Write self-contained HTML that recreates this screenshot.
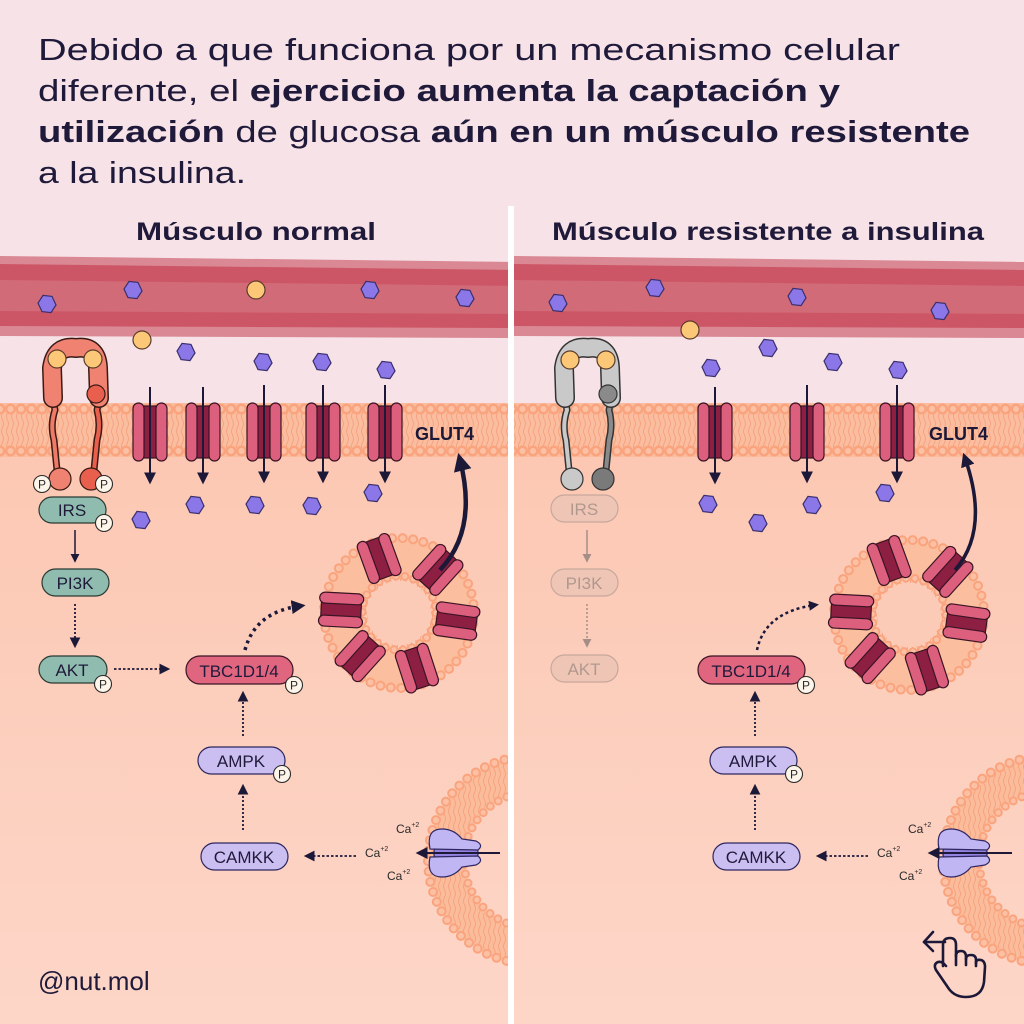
<!DOCTYPE html>
<html><head><meta charset="utf-8"><style>
html,body{margin:0;padding:0;background:#f7e2e7}
svg{display:block}
text{font-family:"Liberation Sans",sans-serif}
</style></head><body>
<svg width="1024" height="1024" viewBox="0 0 1024 1024" xmlns="http://www.w3.org/2000/svg">
<defs>
  <linearGradient id="cell" x1="0" y1="0" x2="0" y2="1">
    <stop offset="0" stop-color="#fcc8b3"/><stop offset="1" stop-color="#fdd6c8"/>
  </linearGradient>
  <pattern id="waves" width="5" height="30" patternUnits="userSpaceOnUse">
    <path d="M2.5 0 q2 3.75 0 7.5 q-2 3.75 0 7.5 q2 3.75 0 7.5 q-2 3.75 0 7.5" fill="none" stroke="#f6a07c" stroke-width="0.9"/>
  </pattern>
  <marker id="ah" viewBox="0 0 10 10" refX="8" refY="5" markerWidth="6" markerHeight="6" orient="auto-start-reverse">
    <path d="M0 0 L10 5 L0 10 Z" fill="#1c1838"/>
  </marker>
  <marker id="ahg" viewBox="0 0 10 10" refX="8" refY="5" markerWidth="6" markerHeight="6" orient="auto">
    <path d="M0 0 L10 5 L0 10 Z" fill="#a58e88"/>
  </marker>
  <marker id="ahb" viewBox="0 0 10 10" refX="6" refY="5" markerWidth="4" markerHeight="4" orient="auto">
    <path d="M0 0 L10 5 L0 10 Z" fill="#1c1838"/>
  </marker>
  <polygon id="hx" points="9,1 4,8.6 -5,7.6 -9,-1 -4,-8.6 5,-7.6" fill="#8b77e8" stroke="#3a2f6e" stroke-width="1.2"/>
  <circle id="ins" r="9" fill="#fcc878" stroke="#5a3b2a" stroke-width="1.2"/>
  <g id="glut">
    <rect x="-9" y="-26" width="18" height="52" fill="#8c1f42" stroke="#3a1424" stroke-width="1.2"/>
    <rect x="-17" y="-29" width="11" height="58" rx="5.5" fill="#dc5f7e" stroke="#3a1424" stroke-width="1.2"/>
    <rect x="6" y="-29" width="11" height="58" rx="5.5" fill="#dc5f7e" stroke="#3a1424" stroke-width="1.2"/>
  </g>
  <g id="vch">
    <rect x="-20" y="-8" width="40" height="16" fill="#8c1f42" stroke="#3a1424" stroke-width="1.2"/>
    <rect x="-22" y="-17" width="44" height="11" rx="5.5" fill="#dc5f7e" stroke="#3a1424" stroke-width="1.2"/>
    <rect x="-22" y="6" width="44" height="11" rx="5.5" fill="#dc5f7e" stroke="#3a1424" stroke-width="1.2"/>
  </g>
  <g id="ves">
    <circle r="56" fill="url(#waves)" stroke="#fbbc9c" stroke-width="40" opacity="1"/>
    <circle r="56" fill="none" stroke="#fbbfa1" stroke-width="38" opacity="0.55"/>
    <circle r="75" fill="none" stroke="#f9a47e" stroke-width="10" stroke-dasharray="0 10.5" stroke-linecap="round"/>
    <circle r="75" fill="none" stroke="#fcc1a4" stroke-width="6" stroke-dasharray="0 10.5" stroke-linecap="round"/>
    <circle r="37" fill="none" stroke="#f9a47e" stroke-width="9" stroke-dasharray="0 9" stroke-linecap="round"/>
    <circle r="37" fill="none" stroke="#fcc1a4" stroke-width="5" stroke-dasharray="0 9" stroke-linecap="round"/>
    <circle r="32" fill="#fccbb7"/>
    <use href="#vch" transform="rotate(-110) translate(58 0)"/>
    <use href="#vch" transform="rotate(-48) translate(58 0)"/>
    <use href="#vch" transform="rotate(8) translate(58 0)"/>
    <use href="#vch" transform="rotate(72) translate(58 0)"/>
    <use href="#vch" transform="rotate(132) translate(58 0)"/>
    <use href="#vch" transform="rotate(183) translate(58 0)"/>
  </g>
  <g id="caring">
    <circle r="86" fill="none" stroke="#fbbc9c" stroke-width="36"/>
    <circle r="86" fill="none" stroke="url(#waves)" stroke-width="30"/>
    <circle r="104" fill="none" stroke="#f9a47e" stroke-width="10" stroke-dasharray="0 10.5" stroke-linecap="round"/>
    <circle r="104" fill="none" stroke="#fcc1a4" stroke-width="6" stroke-dasharray="0 10.5" stroke-linecap="round"/>
    <circle r="68" fill="none" stroke="#f9a47e" stroke-width="9" stroke-dasharray="0 9.5" stroke-linecap="round"/>
    <circle r="68" fill="none" stroke="#fcc1a4" stroke-width="5" stroke-dasharray="0 9.5" stroke-linecap="round"/>
  </g>
  <g id="cach">
    <rect x="-24" y="-9" width="44" height="18" rx="8" fill="#9483e0" stroke="#2e2660" stroke-width="1.2"/>
    <path d="M-28 -4 Q-32 -24 -16 -24 Q-4 -24 4 -14 L18 -12 Q26 -8 20 -3 Z" fill="#c0b6f4" stroke="#2e2660" stroke-width="1.2"/>
    <path d="M-28 4 Q-32 24 -16 24 Q-4 24 4 14 L18 12 Q26 8 20 3 Z" fill="#c0b6f4" stroke="#2e2660" stroke-width="1.2"/>
  </g>
  <g id="pb"><circle r="8.5" fill="#fdf5ea" stroke="#2a2a2a" stroke-width="1.1"/><text y="4.5" text-anchor="middle" font-size="12" fill="#2a2a2a">P</text></g>
  <g id="mem">
    <rect x="0" y="403" width="520" height="54" fill="#fbbd9f"/>
    <rect x="0" y="412" width="520" height="36" fill="url(#waves)"/>
    <line x1="0" y1="409" x2="520" y2="409" stroke="#f9a47e" stroke-width="11" stroke-dasharray="0 10.5" stroke-linecap="round"/>
    <line x1="0" y1="409" x2="520" y2="409" stroke="#fcc1a4" stroke-width="6" stroke-dasharray="0 10.5" stroke-linecap="round"/>
    <line x1="0" y1="451" x2="520" y2="451" stroke="#f9a47e" stroke-width="11" stroke-dasharray="0 10.5" stroke-linecap="round"/>
    <line x1="0" y1="451" x2="520" y2="451" stroke="#fcc1a4" stroke-width="6" stroke-dasharray="0 10.5" stroke-linecap="round"/>
  </g>
  <g id="vessel">
    <path d="M0 256 L520 262 L520 338 L0 336 Z" fill="#d98894"/>
    <path d="M0 264 L520 270 L520 328 L0 326 Z" fill="#cd5666"/>
    <path d="M0 280 L520 286 L520 314 L0 311 Z" fill="#d26b78"/>
  </g>
  <clipPath id="cl"><rect x="0" y="200" width="508" height="824"/></clipPath>
  <clipPath id="cr"><rect x="514" y="200" width="510" height="824"/></clipPath>
</defs>

<rect width="1024" height="1024" fill="#f7e2e7"/>
<rect x="0" y="455" width="1024" height="569" fill="url(#cell)"/>

<!-- Title -->
<g fill="#1f1a3a" font-size="31">
  <text x="38" y="60" textLength="862" lengthAdjust="spacingAndGlyphs">Debido a que funciona por un mecanismo celular</text>
  <text x="38" y="101" textLength="802" lengthAdjust="spacingAndGlyphs">diferente, el <tspan font-weight="bold">ejercicio aumenta la captación y</tspan></text>
  <text x="38" y="142" textLength="932" lengthAdjust="spacingAndGlyphs"><tspan font-weight="bold">utilización</tspan> de glucosa <tspan font-weight="bold">aún en un músculo resistente</tspan></text>
  <text x="38" y="183" textLength="208" lengthAdjust="spacingAndGlyphs">a la insulina.</text>
</g>
<g fill="#1f1a3a" font-size="25" font-weight="bold" text-anchor="middle">
  <text x="256" y="240" textLength="240" lengthAdjust="spacingAndGlyphs">Músculo normal</text>
  <text x="768" y="240" textLength="432" lengthAdjust="spacingAndGlyphs">Músculo resistente a insulina</text>
</g>

<!-- LEFT PANEL -->
<g clip-path="url(#cl)">
  <use href="#vessel"/>
  <use href="#mem"/>
  <use href="#ves" x="399" y="613"/>
  <use href="#caring" x="532" y="860"/>
  <!-- receptor -->
  <g stroke-linecap="round" stroke-linejoin="round" fill="none">
    <path d="M57 470 L54 440 Q50 425 55 410 L52 395" stroke="#3a1a14" stroke-width="7"/>
    <path d="M57 470 L54 440 Q50 425 55 410 L52 395" stroke="#f07a68" stroke-width="4"/>
    <path d="M94 470 L97 440 Q101 425 97 410 L100 395" stroke="#3a1a14" stroke-width="7"/>
    <path d="M94 470 L97 440 Q101 425 97 410 L100 395" stroke="#e95f4e" stroke-width="4"/>
    <path d="M53 398 L52 368 Q55 345 76 348 Q97 345 98 368 L99 398" stroke="#3a1a14" stroke-width="20"/>
    <path d="M53 398 L52 368 Q55 345 76 348 Q97 345 98 368 L99 398" stroke="#f08272" stroke-width="17"/>
  </g>
  <circle cx="96" cy="394" r="9" fill="#e95f4e" stroke="#3a1a14" stroke-width="1.2"/>
  <circle cx="60" cy="479" r="11" fill="#f08272" stroke="#3a1a14" stroke-width="1.2"/>
  <circle cx="91" cy="479" r="11" fill="#e95f4e" stroke="#3a1a14" stroke-width="1.2"/>
  <use href="#ins" x="57" y="359"/><use href="#ins" x="93" y="359"/>
  <use href="#pb" x="42" y="484"/><use href="#pb" x="104" y="484"/>
  <!-- glucose / insulin -->
  <use href="#hx" x="47" y="304"/><use href="#hx" x="133" y="290"/><use href="#ins" x="256" y="290"/>
  <use href="#hx" x="370" y="290"/><use href="#hx" x="465" y="298"/>
  <use href="#ins" x="142" y="340"/><use href="#hx" x="186" y="352"/><use href="#hx" x="263" y="362"/>
  <use href="#hx" x="322" y="362"/><use href="#hx" x="386" y="370"/>
  <use href="#hx" x="141" y="520"/><use href="#hx" x="195" y="505"/><use href="#hx" x="255" y="505"/>
  <use href="#hx" x="312" y="506"/><use href="#hx" x="373" y="493"/>
  <!-- GLUT4 -->
  <g stroke="#1c1838" stroke-width="2">
    <use href="#glut" x="150" y="432"/><line x1="150" y1="387" x2="150" y2="482" marker-end="url(#ah)"/>
    <use href="#glut" x="203" y="432"/><line x1="203" y1="387" x2="203" y2="482" marker-end="url(#ah)"/>
    <use href="#glut" x="264" y="432"/><line x1="264" y1="385" x2="264" y2="481" marker-end="url(#ah)"/>
    <use href="#glut" x="323" y="432"/><line x1="323" y1="385" x2="323" y2="481" marker-end="url(#ah)"/>
    <use href="#glut" x="385" y="432"/><line x1="385" y1="385" x2="385" y2="481" marker-end="url(#ah)"/>
  </g>
  <text x="415" y="440" font-size="18" font-weight="bold" fill="#1c1838">GLUT4</text>
  <path d="M440 570 Q478 530 460 460" fill="none" stroke="#1c1838" stroke-width="4.5" marker-end="url(#ahb)"/>
  <path d="M245 650 Q255 612 300 606" fill="none" stroke="#1c1838" stroke-width="3.5" stroke-dasharray="3 4" marker-end="url(#ahb)"/>
  <!-- pathway -->
  <rect x="39" y="497" width="67" height="26" rx="13" fill="#8fbcae" stroke="#2a3a34" stroke-width="1.2"/>
  <text x="72" y="516" font-size="17" text-anchor="middle" fill="#1f1a3a">IRS</text>
  <use href="#pb" x="104" y="523"/>
  <line x1="75" y1="530" x2="75" y2="561" stroke="#1c1838" stroke-width="1.5" marker-end="url(#ah)"/>
  <rect x="42" y="569" width="67" height="27" rx="13.5" fill="#8fbcae" stroke="#2a3a34" stroke-width="1.2"/>
  <text x="75" y="589" font-size="17" text-anchor="middle" fill="#1f1a3a">PI3K</text>
  <line x1="75" y1="604" x2="75" y2="646" stroke="#1c1838" stroke-width="1.8" stroke-dasharray="2 2" marker-end="url(#ah)"/>
  <rect x="39" y="656" width="68" height="27" rx="13.5" fill="#8fbcae" stroke="#2a3a34" stroke-width="1.2"/>
  <text x="72" y="676" font-size="17" text-anchor="middle" fill="#1f1a3a">AKT</text>
  <use href="#pb" x="103" y="684"/>
  <line x1="114" y1="669" x2="168" y2="669" stroke="#1c1838" stroke-width="1.8" stroke-dasharray="2.5 2" marker-end="url(#ah)"/>
  <rect x="186" y="656" width="107" height="28" rx="14" fill="#e0667f" stroke="#3a1424" stroke-width="1.2"/>
  <text x="239" y="677" font-size="17" text-anchor="middle" fill="#1f1a3a">TBC1D1/4</text>
  <use href="#pb" x="294" y="685"/>
  <line x1="243" y1="736" x2="243" y2="693" stroke="#1c1838" stroke-width="1.8" stroke-dasharray="2 2" marker-end="url(#ah)"/>
  <rect x="198" y="747" width="87" height="27" rx="13.5" fill="#cbbff2" stroke="#2e2660" stroke-width="1.2"/>
  <text x="241" y="767" font-size="17" text-anchor="middle" fill="#1f1a3a">AMPK</text>
  <use href="#pb" x="282" y="774"/>
  <line x1="243" y1="830" x2="243" y2="786" stroke="#1c1838" stroke-width="1.8" stroke-dasharray="2 2" marker-end="url(#ah)"/>
  <rect x="201" y="843" width="87" height="27" rx="13.5" fill="#cbbff2" stroke="#2e2660" stroke-width="1.2"/>
  <text x="244" y="863" font-size="17" text-anchor="middle" fill="#1f1a3a">CAMKK</text>
  <line x1="356" y1="856" x2="306" y2="856" stroke="#1c1838" stroke-width="1.8" stroke-dasharray="2.5 2" marker-end="url(#ah)"/>
  <g font-size="12" fill="#2a2a2a">
    <text x="396" y="833">Ca<tspan font-size="7" dy="-6">+2</tspan></text>
    <text x="365" y="857">Ca<tspan font-size="7" dy="-6">+2</tspan></text>
    <text x="387" y="880">Ca<tspan font-size="7" dy="-6">+2</tspan></text>
  </g>
  <use href="#cach" x="458" y="853"/>
  <line x1="500" y1="853" x2="418" y2="853" stroke="#1c1838" stroke-width="2" marker-end="url(#ah)"/>
  <text x="38" y="990" font-size="26" fill="#1f1a3a">@nut.mol</text>
</g>

<!-- divider -->
<rect x="508" y="206" width="6" height="818" fill="#ffffff"/>

<!-- RIGHT PANEL -->
<g clip-path="url(#cr)">
  <g transform="translate(512 0)"><use href="#vessel"/><use href="#mem"/></g>
  <use href="#ves" x="909" y="615"/>
  <use href="#caring" x="1047" y="860"/>
  <g stroke-linecap="round" stroke-linejoin="round" fill="none">
    <path d="M569 470 L566 440 Q562 425 567 410 L564 395" stroke="#333" stroke-width="7"/>
    <path d="M569 470 L566 440 Q562 425 567 410 L564 395" stroke="#c9c9c9" stroke-width="4"/>
    <path d="M606 470 L609 440 Q613 425 609 410 L612 395" stroke="#333" stroke-width="7"/>
    <path d="M606 470 L609 440 Q613 425 609 410 L612 395" stroke="#8a8a8a" stroke-width="4"/>
    <path d="M565 398 L564 368 Q567 345 588 348 Q609 345 610 368 L611 398" stroke="#333" stroke-width="20"/>
    <path d="M565 398 L564 368 Q567 345 588 348 Q609 345 610 368 L611 398" stroke="#c9c9c9" stroke-width="17"/>
  </g>
  <circle cx="608" cy="394" r="9" fill="#8a8a8a" stroke="#333" stroke-width="1.2"/>
  <circle cx="572" cy="479" r="11" fill="#c9c9c9" stroke="#333" stroke-width="1.2"/>
  <circle cx="603" cy="479" r="11" fill="#7a7a7a" stroke="#333" stroke-width="1.2"/>
  <use href="#ins" x="570" y="360"/><use href="#ins" x="606" y="360"/>
  <use href="#hx" x="558" y="303"/><use href="#hx" x="655" y="288"/><use href="#hx" x="797" y="297"/>
  <use href="#hx" x="940" y="311"/><use href="#ins" x="690" y="330"/>
  <use href="#hx" x="768" y="348"/><use href="#hx" x="833" y="362"/><use href="#hx" x="898" y="370"/>
  <use href="#hx" x="711" y="368"/>
  <use href="#hx" x="708" y="504"/><use href="#hx" x="758" y="523"/><use href="#hx" x="812" y="505"/><use href="#hx" x="885" y="493"/>
  <g stroke="#1c1838" stroke-width="2">
    <use href="#glut" x="715" y="432"/><line x1="715" y1="387" x2="715" y2="482" marker-end="url(#ah)"/>
    <use href="#glut" x="807" y="432"/><line x1="807" y1="385" x2="807" y2="481" marker-end="url(#ah)"/>
    <use href="#glut" x="897" y="432"/><line x1="897" y1="385" x2="897" y2="481" marker-end="url(#ah)"/>
  </g>
  <text x="929" y="440" font-size="18" font-weight="bold" fill="#1c1838">GLUT4</text>
  <path d="M955 570 Q990 530 965 458" fill="none" stroke="#1c1838" stroke-width="3.5" marker-end="url(#ahb)"/>
  <path d="M757 650 Q765 612 815 605" fill="none" stroke="#1c1838" stroke-width="2.5" stroke-dasharray="3 3" marker-end="url(#ahb)"/>
  <!-- faded pathway -->
  <g fill="#efc6b6" stroke="#c7a89d" stroke-width="1.2">
    <rect x="551" y="495" width="67" height="27" rx="13.5"/>
    <rect x="551" y="569" width="67" height="27" rx="13.5"/>
    <rect x="551" y="655" width="67" height="27" rx="13.5"/>
  </g>
  <g font-size="17" text-anchor="middle" fill="#b1988f">
    <text x="584" y="515">IRS</text><text x="584" y="589">PI3K</text><text x="584" y="675">AKT</text>
  </g>
  <line x1="587" y1="530" x2="587" y2="561" stroke="#a58e88" stroke-width="1.5" marker-end="url(#ahg)"/>
  <line x1="587" y1="604" x2="587" y2="646" stroke="#a58e88" stroke-width="1.5" stroke-dasharray="2 2" marker-end="url(#ahg)"/>
  <rect x="698" y="656" width="107" height="28" rx="14" fill="#e0667f" stroke="#3a1424" stroke-width="1.2"/>
  <text x="751" y="677" font-size="17" text-anchor="middle" fill="#1f1a3a">TBC1D1/4</text>
  <use href="#pb" x="806" y="685"/>
  <line x1="755" y1="736" x2="755" y2="693" stroke="#1c1838" stroke-width="1.8" stroke-dasharray="2 2" marker-end="url(#ah)"/>
  <rect x="710" y="747" width="87" height="27" rx="13.5" fill="#cbbff2" stroke="#2e2660" stroke-width="1.2"/>
  <text x="753" y="767" font-size="17" text-anchor="middle" fill="#1f1a3a">AMPK</text>
  <use href="#pb" x="794" y="774"/>
  <line x1="755" y1="830" x2="755" y2="786" stroke="#1c1838" stroke-width="1.8" stroke-dasharray="2 2" marker-end="url(#ah)"/>
  <rect x="713" y="843" width="87" height="27" rx="13.5" fill="#cbbff2" stroke="#2e2660" stroke-width="1.2"/>
  <text x="756" y="863" font-size="17" text-anchor="middle" fill="#1f1a3a">CAMKK</text>
  <line x1="868" y1="856" x2="818" y2="856" stroke="#1c1838" stroke-width="1.8" stroke-dasharray="2.5 2" marker-end="url(#ah)"/>
  <g font-size="12" fill="#2a2a2a">
    <text x="908" y="833">Ca<tspan font-size="7" dy="-6">+2</tspan></text>
    <text x="877" y="857">Ca<tspan font-size="7" dy="-6">+2</tspan></text>
    <text x="899" y="880">Ca<tspan font-size="7" dy="-6">+2</tspan></text>
  </g>
  <use href="#cach" x="967" y="853"/>
  <line x1="1012" y1="853" x2="930" y2="853" stroke="#1c1838" stroke-width="2" marker-end="url(#ah)"/>
  <!-- hand icon -->
  <g fill="none" stroke="#1c1838" stroke-width="2.6" stroke-linecap="round" stroke-linejoin="round">
    <path d="M933 932 L924 942 L933 951"/>
    <path d="M924 942 L945 942"/>
    <path d="M943 966 L943 945 Q943 938 950 938 Q956 938 956 945 L956 965"/>
    <path d="M956 956 Q956 951 961 951 Q966 951 966 957 L966 965"/>
    <path d="M966 959 Q966 955 971 955 Q976 955 976 960 L976 966"/>
    <path d="M976 963 Q976 959 981 960 Q985 961 985 967 L984 982 Q982 997 966 997 Q955 997 949 989 L936 970 Q933 964 938 962 Q942 961 946 966"/>
  </g>
</g>
</svg>
</body></html>
